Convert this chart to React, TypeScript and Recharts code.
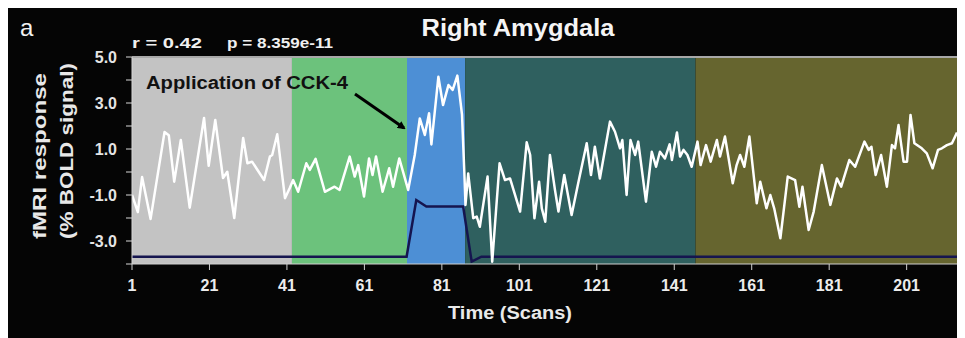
import React from 'react';
import {
  ComposedChart, XAxis, YAxis, Line, ReferenceArea, ReferenceLine
} from 'recharts';

// fMRI signal, right amygdala (scan, % BOLD)
const signalScans = [
  1, 2.5, 3.6, 5.8, 9.4, 10.5, 11.9, 13.6, 15.9, 19.6, 20.8, 22.5, 24.5, 25.6, 27.4, 29.7, 30.8, 32,
  35.1, 36.6, 37.2, 38.5, 40.5, 41.7, 42.6, 43.9, 46, 46.9, 48.4, 50.8, 53.3, 54.6, 57.2, 58.5, 59.4,
  60.9, 62.2, 63.1, 64, 65.7, 67.4, 68.4, 70, 72.3, 74, 75.3, 76.6, 77.7, 78.3, 80.1, 81.3, 82.7, 83.8,
  85, 86.2, 86.8, 87.1, 87.8, 89.1, 90, 90.8, 92.8, 94, 95.9, 97.3, 98.6, 101.2, 102.9, 103.8, 104.9,
  106.1, 106.8, 107.7, 108.9, 110.2, 111.1, 112.6, 114.5, 116.2, 118.4, 119.5, 120.5, 121.8, 124.4,
  125.7, 127, 127.6, 128.7, 129.7, 130.9, 131.7, 133.7, 135.2, 136.3, 137.3, 138.6, 139.8, 140.4,
  141.7, 142.5, 143.4, 144.4, 145.5, 147, 147.8, 149.2, 150.4, 152, 152.8, 154.1, 156.1, 157.1, 158,
  159.1, 160.4, 162.3, 163.2, 164.8, 165.8, 166.8, 168.4, 170.3, 172.2, 173.3, 174.1, 175.7, 177,
  179.1, 181.3, 183, 184.1, 186.2, 187.7, 190.1, 191.2, 191.9, 193, 194.4, 195.9, 197.2, 198, 198.9,
  200.2, 201.1, 202, 203, 204.9, 206.2, 207.7, 209.1, 210.1, 211.4, 212.7, 214
];
const signalValues = [
  -1.0, -1.74, -0.22, -2.04, 1.74, 1.6, -0.42, 1.39, -1.55, 2.35, 0.27, 2.26, -0.26, 0.01, -2.0, 1.48, 0.38, 0.45,
  -0.35, 0.67, 0.74, 1.64, -1.14, -0.71, -0.35, -0.86, 0.38, 0.09, 0.57, -0.86, -0.64, -0.78, 0.67, -0.2, 0.3,
  -1.07, 0.59, -0.13, 0.67, -0.86, 0.16, -0.64, 0.59, -0.78, 0.74, 2.33, 1.61, 2.55, 1.2, 4.14, 2.91, 3.78, 3.57,
  4.19, 2.5, 0.01, -1.43, -0.06, -2.01, -1.94, -2.38, -0.2, -3.9, 0.38, -0.35, -0.28, -1.72, 1.29, 0.74, -2.01,
  -0.42, -1.58, -2.16, 0.74, -0.78, -1.72, -0.13, -1.87, -0.49, 1.25, -0.13, 1.1, -0.28, 2.19,
  1.75, 1.03, 1.39, -1.0, 1.39, 0.74, 1.32, -1.29, 0.88, 0.23, 0.88, 0.59, 1.2, 0.52,
  1.72, 0.67, 0.96, 0.74, 0.23, 1.32, 0.3, 1.17, 0.45, 1.39, 0.67, 1.54, -0.49, 0.3, 0.74,
  0.23, 1.54, -1.36, -0.42, -1.58, -1.0, -1.58, -2.88, -0.2, -0.35, -1.51, -0.64, -2.52, -1.72,
  0.3, -1.43, -0.28, -0.64, 0.52, 0.23, 1.32, 0.96, 1.1, -0.13, 0.74, -0.64, 1.17, 1.03, 2.04,
  0.45, 0.45, 2.48, 1.25, 1.03, 0.81, 0.16, 0.96, 1.03, 1.17, 1.25, 1.72
];

// CCK-4 regressor
const regressorScans = [1, 71.9, 74.4, 77, 86.5, 88.7, 91.2, 214];
const regressorValues = [-3.68, -3.68, -1.22, -1.5, -1.5, -3.9, -3.68, -3.68];

// experimental blocks
const blockStarts = [1, 42.3, 72, 87, 146.5];
const blockEnds = [42.3, 72, 87, 146.5, 214];
const blockFills = ['#c3c3c3', '#6cc27c', '#4d8fd5', '#2f605f', '#66652f'];

const xTicks = [1, 21, 41, 61, 81, 101, 121, 141, 161, 181, 201];
const yTicks = [-4, -3, -2, -1, 0, 1, 2, 3, 4, 5];

const signal = signalScans.map((s, i) => ({ scan: s, value: signalValues[i] }));
const regressor = regressorScans.map((s, i) => ({ scan: s, value: regressorValues[i] }));

const FONT = "'Liberation Sans', Arial, sans-serif";
const W = 957;
const H = 330;

export default function App() {
  return (
    <div style={{ position: 'relative', width: W, height: H, background: '#050505', fontFamily: FONT }}>
      <ComposedChart width={W} height={H} margin={{ top: 49, right: 8, bottom: 44, left: 64 }}>
        <XAxis
          dataKey="scan"
          type="number"
          domain={[1, 214]}
          ticks={xTicks}
          allowDataOverflow
          height={30}
          stroke="#d0d0d0"
          tickSize={6}
          tickMargin={10}
          tick={{ fill: '#ececec', fontSize: 16, fontWeight: 'bold', fontFamily: FONT }}
        />
        <YAxis
          type="number"
          domain={[-4, 5]}
          ticks={yTicks}
          allowDataOverflow
          width={60}
          stroke="#d8d8d8"
          tickSize={6}
          tickMargin={9}
          tickFormatter={(v: number) => (Math.abs(v) % 2 === 1 ? v.toFixed(1) : '')}
          tick={{ fill: '#e4e4e4', fontSize: 16, fontWeight: 'bold', fontFamily: FONT }}
        />
        {blockStarts.map((s, i) => (
          <ReferenceArea
            key={i}
            x1={s}
            x2={blockEnds[i]}
            y1={-4}
            y2={5}
            fill={blockFills[i]}
            fillOpacity={1}
            stroke="none"
            ifOverflow="hidden"
          />
        ))}
        <ReferenceLine y={5} stroke="#a8a8a8" strokeWidth={2} />
        <Line
          data={regressor}
          dataKey="value"
          type="linear"
          stroke="#15154f"
          strokeWidth={2.5}
          dot={false}
          isAnimationActive={false}
        />
        <Line
          data={signal}
          dataKey="value"
          type="linear"
          stroke="#ffffff"
          strokeWidth={2.5}
          strokeLinejoin="round"
          dot={false}
          isAnimationActive={false}
        />
      </ComposedChart>
      <svg
        width={W}
        height={H}
        style={{ position: 'absolute', left: 0, top: 0, pointerEvents: 'none' }}
        fontFamily={FONT}
      >
        <defs>
          <marker id="head" markerWidth="8" markerHeight="8" refX="6" refY="4" orient="auto" markerUnits="userSpaceOnUse">
            <path d="M0,0 L8,4 L0,8 Z" fill="#000" />
          </marker>
        </defs>
        <text x={12} y={28} fill="#f2f2f2" fontSize={24}>a</text>
        <text x={510} y={28} fill="#f5f5f5" fontSize={24} fontWeight="bold" textAnchor="middle" textLength={193} lengthAdjust="spacingAndGlyphs">
          Right Amygdala
        </text>
        <text x={124} y={40} fill="#f0f0f0" fontSize={15} fontWeight="bold" textLength={70} lengthAdjust="spacingAndGlyphs">r = 0.42</text>
        <text x={219} y={40} fill="#f0f0f0" fontSize={15} fontWeight="bold" textLength={106} lengthAdjust="spacingAndGlyphs">p = 8.359e-11</text>
        <text x={138} y={81} fill="#111" fontSize={18} fontWeight="bold" textLength={202} lengthAdjust="spacingAndGlyphs">
          Application of CCK-4
        </text>
        <line x1={347} y1={86} x2={396} y2={120} stroke="#000" strokeWidth={3} markerEnd="url(#head)" />
        <text x={38} y={148} fill="#e8e8e8" fontSize={18} fontWeight="bold" textAnchor="middle" transform="rotate(-90 38 148)" textLength={166} lengthAdjust="spacingAndGlyphs">
          fMRI response
        </text>
        <text x={65} y={143} fill="#e8e8e8" fontSize={18} fontWeight="bold" textAnchor="middle" transform="rotate(-90 65 143)" textLength={176} lengthAdjust="spacingAndGlyphs">
          (% BOLD signal)
        </text>
        <text x={502} y={311} fill="#eaeaea" fontSize={18} fontWeight="bold" textAnchor="middle" textLength={124} lengthAdjust="spacingAndGlyphs">
          Time (Scans)
        </text>
      </svg>
    </div>
  );
}
